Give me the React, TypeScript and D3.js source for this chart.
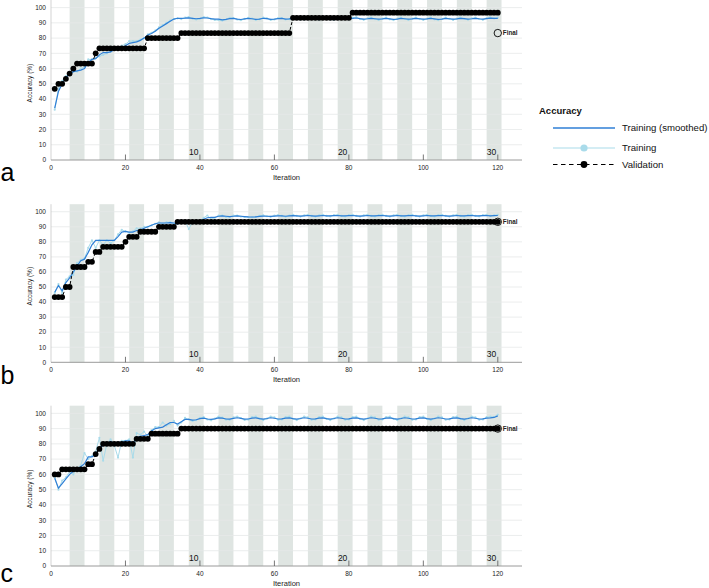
import React from 'react';
import * as d3 from 'd3';

// ---------- DATA ----------
const xTickValues = [20, 40, 60, 80, 100, 120];
const xTickLabels = ['0', '20', '40', '60', '80', '100', '120'];
const xLabelValues = [0, 20, 40, 60, 80, 100, 120];
const yTickValues = [0, 10, 20, 30, 40, 50, 60, 70, 80, 90, 100];
const epochLabels = ['10', '20', '30'];
const epochIterations = [40, 80, 120];
const shadedEpochs = [2, 4, 6, 8, 10, 12, 14, 16, 18, 20, 22, 24, 26, 28, 30];
const itersPerEpoch = 4;
const panelLetters = ['a', 'b', 'c'];
const finalValues = [83.3, 93.3, 90];

const validationA = [
  46.7, 50, 50, 53.3, 56.7, 60, 63.3, 63.3, 63.3, 63.3,
  63.3, 70, 73.3, 73.3, 73.3, 73.3, 73.3, 73.3, 73.3, 73.3,
  73.3, 73.3, 73.3, 73.3, 73.3, 80, 80, 80, 80, 80,
  80, 80, 80, 80, 83.3, 83.3, 83.3, 83.3, 83.3, 83.3,
  83.3, 83.3, 83.3, 83.3, 83.3, 83.3, 83.3, 83.3, 83.3, 83.3,
  83.3, 83.3, 83.3, 83.3, 83.3, 83.3, 83.3, 83.3, 83.3, 83.3,
  83.3, 83.3, 83.3, 83.3, 93.3, 93.3, 93.3, 93.3, 93.3, 93.3,
  93.3, 93.3, 93.3, 93.3, 93.3, 93.3, 93.3, 93.3, 93.3, 93.3,
  96.7, 96.7, 96.7, 96.7, 96.7, 96.7, 96.7, 96.7, 96.7, 96.7,
  96.7, 96.7, 96.7, 96.7, 96.7, 96.7, 96.7, 96.7, 96.7, 96.7,
  96.7, 96.7, 96.7, 96.7, 96.7, 96.7, 96.7, 96.7, 96.7, 96.7,
  96.7, 96.7, 96.7, 96.7, 96.7, 96.7, 96.7, 96.7, 96.7, 96.7,
];

const smoothedA = [
  34, 45, 50, 54, 56.5, 58, 58.5, 59, 60, 64,
  66, 66.5, 69, 70.5, 70.5, 71, 72.5, 73.5, 74, 75,
  76.5, 77, 77.5, 78.5, 80, 82, 83, 84.5, 86.5, 88,
  89.5, 91, 92.5, 93, 93, 93.1, 93.3, 93.0, 92.7, 92.9,
  93.3, 93.2, 92.8, 92.5, 92.4, 92.0, 92.3, 92.8, 92.9, 92.5,
  92.2, 92.6, 92.9, 92.7, 92.3, 92.5, 93.0, 92.8, 92.3, 92.4,
  92.8, 92.9, 92.5, 92.6, 93.1, 93.0, 92.6, 92.5, 92.9, 93.1,
  92.7, 92.5, 92.8, 93.0, 92.6, 92.4, 92.8, 93.1, 92.8, 92.6,
  93.0, 93.2, 92.8, 92.5, 92.7, 93.0, 92.7, 92.4, 92.6, 92.9,
  92.6, 92.3, 92.5, 92.9, 92.7, 92.4, 92.6, 93.0, 92.7, 92.4,
  92.6, 92.9, 92.6, 92.3, 92.5, 92.9, 92.7, 92.4, 92.6, 93.0,
  92.8, 92.5, 92.7, 93.0, 92.7, 92.5, 92.8, 93.1, 92.9, 93.0,
];

const trainingA = [
  33, 47, 52, 55, 57, 58, 58, 60, 61, 66,
  66, 67, 68, 69, 70, 71, 73, 74, 75, 76,
  78, 78, 78, 79, 80, 82.5, 83.5, 85, 87, 88.5,
  90, 91.5, 92.5, 93, 92.5, 93.5, 93.8, 92.8, 92.2, 92.7,
  93.8, 93.5, 92.5, 91.9, 91.8, 91.5, 92.2, 93.3, 93.2, 92.2,
  91.7, 92.6, 93.3, 92.8, 91.9, 92.4, 93.4, 93.0, 91.9, 92.2,
  93.2, 93.2, 92.2, 92.5, 93.6, 93.3, 92.2, 92.2, 93.3, 93.6,
  92.4, 92.1, 93.2, 93.4, 92.2, 92.0, 93.1, 93.6, 92.7, 92.3,
  93.4, 93.7, 92.5, 92.0, 92.9, 93.5, 92.5, 91.9, 92.8, 93.4,
  92.3, 91.8, 92.8, 93.4, 92.6, 91.9, 92.8, 93.5, 92.5, 91.9,
  92.8, 93.4, 92.3, 91.8, 92.7, 93.4, 92.6, 91.9, 92.8, 93.5,
  92.7, 92.1, 92.9, 93.5, 92.5, 92.0, 93.1, 93.6, 92.9, 93.4,
];

const validationB = [
  43.3, 43.3, 43.3, 50, 50, 63.3, 63.3, 63.3, 63.3, 66.7,
  66.7, 73.3, 73.3, 76.7, 76.7, 76.7, 76.7, 76.7, 76.7, 80,
  83.3, 83.3, 83.3, 86.7, 86.7, 86.7, 86.7, 86.7, 90, 90,
  90, 90, 90, 93.3, 93.3, 93.3, 93.3, 93.3, 93.3, 93.3,
  93.3, 93.3, 93.3, 93.3, 93.3, 93.3, 93.3, 93.3, 93.3, 93.3,
  93.3, 93.3, 93.3, 93.3, 93.3, 93.3, 93.3, 93.3, 93.3, 93.3,
  93.3, 93.3, 93.3, 93.3, 93.3, 93.3, 93.3, 93.3, 93.3, 93.3,
  93.3, 93.3, 93.3, 93.3, 93.3, 93.3, 93.3, 93.3, 93.3, 93.3,
  93.3, 93.3, 93.3, 93.3, 93.3, 93.3, 93.3, 93.3, 93.3, 93.3,
  93.3, 93.3, 93.3, 93.3, 93.3, 93.3, 93.3, 93.3, 93.3, 93.3,
  93.3, 93.3, 93.3, 93.3, 93.3, 93.3, 93.3, 93.3, 93.3, 93.3,
  93.3, 93.3, 93.3, 93.3, 93.3, 93.3, 93.3, 93.3, 93.3, 93.3,
];

const smoothedB = [
  46.5, 51, 47.5, 53, 56, 60, 64, 67.5, 68.5, 73,
  78, 81, 81, 81, 81, 81, 81, 83.5, 86.5, 87,
  86.5, 86.5, 87.5, 88, 89, 90, 91, 92, 92.5, 92.5,
  92.5, 92.8, 92.5, 92, 93.5, 94, 94, 94, 94, 94,
  95, 96, 96.2, 96.3, 97, 97.2, 97, 96.8, 97, 97.2,
  97.0, 96.8, 96.6, 96.5, 96.6, 96.9, 97.1, 97.0, 96.9, 97.1,
  97.3, 97.2, 97.0, 97.2, 97.4, 97.3, 97.1, 97.3, 97.5, 97.3,
  97.1, 97.3, 97.5, 97.3, 97.2, 97.4, 97.5, 97.3, 97.2, 97.4,
  97.5, 97.3, 97.1, 97.3, 97.5, 97.3, 97.2, 97.4, 97.5, 97.3,
  97.1, 97.3, 97.5, 97.3, 97.2, 97.4, 97.5, 97.3, 97.1, 97.3,
  97.5, 97.3, 97.2, 97.4, 97.5, 97.3, 97.1, 97.3, 97.5, 97.3,
  97.2, 97.4, 97.5, 97.3, 97.2, 97.4, 97.5, 97.3, 97.4, 97.5,
];

const trainingB = [
  46, 52, 46, 55, 57, 58, 66, 68, 69, 76,
  81, 76, 81, 78, 81, 79, 81, 85, 88, 87,
  86, 87, 89, 89, 90, 90, 91, 92, 93, 92,
  93, 93, 92, 92, 94, 94, 88.5, 93, 94, 94,
  96, 97.5, 95, 96, 97.5, 97.5, 96.5, 96.5, 97.5, 97.5,
  96.8, 96.5, 96.4, 96.3, 96.6, 97.3, 97.6, 97.0, 96.6, 97.4,
  97.8, 97.2, 96.7, 97.5, 97.9, 97.3, 96.8, 97.6, 98.0, 97.3,
  96.8, 97.6, 98.0, 97.2, 96.9, 97.7, 98.0, 97.2, 96.9, 97.7,
  98.0, 97.2, 96.8, 97.6, 98.0, 97.2, 96.9, 97.7, 98.0, 97.2,
  96.8, 97.6, 98.0, 97.2, 96.9, 97.7, 98.0, 97.2, 96.8, 97.6,
  98.0, 97.2, 96.9, 97.7, 98.0, 97.2, 96.8, 97.6, 98.0, 97.2,
  96.9, 97.7, 98.0, 97.2, 96.9, 97.7, 98.0, 97.2, 97.6, 98.0,
];

const validationC = [
  60, 60, 63.3, 63.3, 63.3, 63.3, 63.3, 63.3, 63.3, 66.7,
  66.7, 73.3, 76.7, 80, 80, 80, 80, 80, 80, 80,
  80, 80, 83.3, 83.3, 83.3, 83.3, 86.7, 86.7, 86.7, 86.7,
  86.7, 86.7, 86.7, 86.7, 90, 90, 90, 90, 90, 90,
  90, 90, 90, 90, 90, 90, 90, 90, 90, 90,
  90, 90, 90, 90, 90, 90, 90, 90, 90, 90,
  90, 90, 90, 90, 90, 90, 90, 90, 90, 90,
  90, 90, 90, 90, 90, 90, 90, 90, 90, 90,
  90, 90, 90, 90, 90, 90, 90, 90, 90, 90,
  90, 90, 90, 90, 90, 90, 90, 90, 90, 90,
  90, 90, 90, 90, 90, 90, 90, 90, 90, 90,
  90, 90, 90, 90, 90, 90, 90, 90, 90, 90,
];

const smoothedC = [
  57.5, 51, 54, 57, 60, 62, 63.5, 65, 67, 71.5,
  71.5, 73, 77.5, 79, 79.5, 81.5, 80, 81, 81, 82,
  82, 80.5, 84, 85, 85.5, 86, 88.5, 90, 90.5, 91,
  92.5, 94, 94, 93, 94.5, 96, 96, 95.5, 95.8, 96.5,
  96.8, 96.3, 96.0, 96.4, 97.0, 96.8, 96.3, 96.2, 96.7, 97.1,
  96.7, 96.2, 96.3, 96.9, 97.0, 96.5, 96.2, 96.6, 97.1, 96.8,
  96.3, 96.4, 96.9, 97.0, 96.5, 96.2, 96.6, 97.1, 96.8, 96.3,
  96.4, 96.9, 97.0, 96.5, 96.2, 96.6, 97.1, 96.8, 96.3, 96.4,
  96.9, 97.0, 96.5, 96.2, 96.6, 97.1, 96.8, 96.3, 96.4, 96.9,
  97.0, 96.5, 96.2, 96.6, 97.1, 96.8, 96.3, 96.4, 96.9, 97.0,
  96.5, 96.2, 96.6, 97.1, 96.8, 96.3, 96.4, 96.9, 97.0, 96.5,
  96.2, 96.6, 97.1, 96.8, 96.3, 96.4, 96.9, 97.0, 97.3, 98.3,
];

const trainingC = [
  58, 50, 56, 58, 62, 60, 64, 66, 74, 70,
  72, 75, 84, 69, 80, 83, 79, 71, 82, 82,
  83, 71, 87, 86, 88, 85, 89, 91, 91, 94,
  92, 93, 95, 92, 94, 97, 96, 95, 95.5, 97,
  97.5, 96.0, 95.4, 96.6, 97.8, 97.2, 95.9, 95.8, 97.3, 97.9,
  96.9, 95.7, 95.9, 97.5, 97.8, 96.5, 95.6, 96.5, 97.9, 97.3,
  95.8, 96.0, 97.5, 97.8, 96.4, 95.6, 96.6, 97.9, 97.3, 95.8,
  96.0, 97.5, 97.8, 96.4, 95.6, 96.6, 97.9, 97.3, 95.8, 96.0,
  97.5, 97.8, 96.4, 95.6, 96.6, 97.9, 97.3, 95.8, 96.0, 97.5,
  97.8, 96.4, 95.6, 96.6, 97.9, 97.3, 95.8, 96.0, 97.5, 97.8,
  96.4, 95.6, 96.6, 97.9, 97.3, 95.8, 96.0, 97.5, 97.8, 96.4,
  95.6, 96.6, 97.9, 97.3, 95.8, 96.0, 97.5, 97.8, 97.6, 99.2,
];

const legendLabels = ['Training (smoothed)', 'Training', 'Validation'];
const legendTitle = 'Accuracy';

// ---------- STYLE ----------
const FONT = '"Liberation Sans", Arial, Helvetica, sans-serif';
const SMOOTH_COLOR = '#2f7fd6';
const RAW_COLOR = '#a9dbea';
const BAND_COLOR = '#dfe5e2';
const GRID_COLOR = '#e6e8e8';
const AXIS_COLOR = '#9a9a9a';

const PLOT_LEFT = 51;
const PLOT_RIGHT = 522;
const X_DOMAIN_MAX = 126.5;

interface PanelProps {
  letter: string;
  letterY: number;
  top: number;
  bottom: number;
  training: number[];
  smoothed: number[];
  validation: number[];
  finalValue: number;
}

function Panel({ letter, letterY, top, bottom, training, smoothed, validation, finalValue }: PanelProps) {
  const x = d3.scaleLinear().domain([0, X_DOMAIN_MAX]).range([PLOT_LEFT, PLOT_RIGHT]);
  const y = d3.scaleLinear().domain([0, 105]).range([bottom, top]);
  const line = d3
    .line<number>()
    .x((_, i) => x(i + 1))
    .y((d) => y(d));
  const lastIter = validation.length;

  return (
    <g>
      {/* shaded alternate epochs */}
      {shadedEpochs.map((e) => (
        <rect
          key={'b' + e}
          x={x(itersPerEpoch * (e - 1) + 1)}
          y={top}
          width={x(itersPerEpoch * e + 1) - x(itersPerEpoch * (e - 1) + 1)}
          height={bottom - top}
          fill={BAND_COLOR}
        />
      ))}
      {/* gridlines */}
      {yTickValues.slice(1).map((v) => (
        <line key={'g' + v} x1={PLOT_LEFT} x2={PLOT_RIGHT} y1={y(v)} y2={y(v)} stroke={GRID_COLOR} strokeWidth={0.8} />
      ))}
      {/* y axis */}
      <line x1={PLOT_LEFT} x2={PLOT_LEFT} y1={top} y2={bottom} stroke="#c8c8c8" strokeWidth={0.8} />
      {yTickValues.map((v) => (
        <text key={'yt' + v} x={PLOT_LEFT - 5} y={y(v) + 2.3} fontSize={6.5} textAnchor="end" fontFamily={FONT} fill="#222">
          {v}
        </text>
      ))}
      <text
        transform={`translate(${29.5},${y(50.5)}) rotate(-90)`}
        fontSize={6.5}
        textAnchor="middle"
        fontFamily={FONT}
        fill="#222"
        dy={2.2}
      >
        Accuracy (%)
      </text>
      {/* x axis */}
      <line x1={PLOT_LEFT} x2={PLOT_RIGHT} y1={bottom} y2={bottom} stroke={AXIS_COLOR} strokeWidth={1} />
      {xTickValues.map((v) => (
        <line key={'xt' + v} x1={x(v)} x2={x(v)} y1={bottom} y2={bottom - 5.5} stroke="#555" strokeWidth={0.8} />
      ))}
      {xLabelValues.map((v, i) => (
        <text key={'xl' + v} x={x(v)} y={bottom + 9.5} fontSize={6.5} textAnchor="middle" fontFamily={FONT} fill="#222">
          {xTickLabels[i]}
        </text>
      ))}
      {epochIterations.map((it, i) => (
        <text key={'ep' + it} x={x(it) - 1.5} y={bottom - 5} fontSize={8.5} textAnchor="end" fontFamily={FONT} fill="#111">
          {epochLabels[i]}
        </text>
      ))}
      <text x={(PLOT_LEFT + PLOT_RIGHT) / 2} y={bottom + 20} fontSize={7.5} textAnchor="middle" fontFamily={FONT} fill="#222">
        Iteration
      </text>
      {/* training raw */}
      <path d={line(training) || ''} fill="none" stroke={RAW_COLOR} strokeWidth={1} />
      {training.map((v, i) => (
        <circle key={'tr' + i} cx={x(i + 1)} cy={y(v)} r={1.1} fill={RAW_COLOR} />
      ))}
      {/* smoothed */}
      <path d={line(smoothed) || ''} fill="none" stroke={SMOOTH_COLOR} strokeWidth={1.2} />
      {/* validation */}
      <path d={line(validation) || ''} fill="none" stroke="#000" strokeWidth={1} strokeDasharray="3,2" />
      {validation.map((v, i) => (
        <circle key={'v' + i} cx={x(i + 1)} cy={y(v)} r={2.9} fill="#000" />
      ))}
      {/* final */}
      <circle cx={x(lastIter)} cy={y(finalValue)} r={3.7} fill="none" stroke="#000" strokeWidth={0.9} />
      <text x={x(lastIter) + 5} y={y(finalValue) + 2.2} fontSize={6.3} fontWeight="bold" fontFamily={FONT} fill="#222">
        Final
      </text>
      {/* panel letter */}
      <text x={0.5} y={letterY} fontSize={25} fontFamily={FONT} fill="#000">
        {letter}
      </text>
    </g>
  );
}

function Legend() {
  const lx1 = 553;
  const lx2 = 615;
  const tx = 622;
  const rows = [128, 148, 164.5];
  return (
    <g fontFamily={FONT}>
      <text x={539} y={113.5} fontSize={9.5} fontWeight="bold" fill="#111">
        {legendTitle}
      </text>
      <line x1={lx1} x2={lx2} y1={rows[0]} y2={rows[0]} stroke={SMOOTH_COLOR} strokeWidth={1.4} />
      <line x1={lx1} x2={lx2} y1={rows[1]} y2={rows[1]} stroke={RAW_COLOR} strokeWidth={1.2} />
      <circle cx={(lx1 + lx2) / 2} cy={rows[1]} r={3.6} fill={RAW_COLOR} />
      <line x1={lx1} x2={lx2} y1={rows[2]} y2={rows[2]} stroke="#000" strokeWidth={1.2} strokeDasharray="4.5,3.5" />
      <circle cx={(lx1 + lx2) / 2} cy={rows[2]} r={3.4} fill="#000" />
      {legendLabels.map((l, i) => (
        <text key={l} x={tx} y={rows[i] + 3.4} fontSize={9.6} fill="#111">
          {l}
        </text>
      ))}
    </g>
  );
}

export default function App() {
  const panels = [
    { top: 0, bottom: 160, letterY: 181, training: trainingA, smoothed: smoothedA, validation: validationA },
    { top: 204.2, bottom: 362.3, letterY: 384, training: trainingB, smoothed: smoothedB, validation: validationB },
    { top: 405.7, bottom: 566, letterY: 582, training: trainingC, smoothed: smoothedC, validation: validationC },
  ];
  return (
    <svg
      width={709}
      height={588}
      style={{ position: 'absolute', left: 0, top: 0, background: '#fff' }}
    >
      <rect x={0} y={0} width={709} height={588} fill="#fff" />
      {panels.map((p, i) => (
        <Panel key={i} letter={panelLetters[i]} finalValue={finalValues[i]} {...p} />
      ))}
      <Legend />
    </svg>
  );
}
